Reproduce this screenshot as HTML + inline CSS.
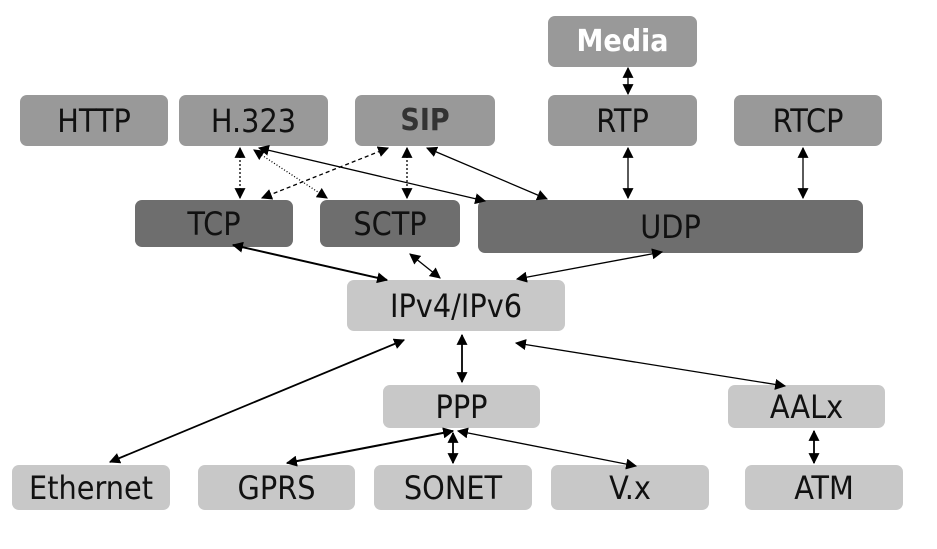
<!DOCTYPE html>
<html><head><style>
body{margin:0;background:#fff;width:937px;height:549px;overflow:hidden;position:relative;font-family:"DejaVu Sans Condensed","DejaVu Sans","Liberation Sans",sans-serif;}
.b{position:absolute;border-radius:7px;display:flex;align-items:center;justify-content:center;font-size:32px;color:#111;}
.g{background:#999;}.d{background:#6e6e6e;}.l{background:#c8c8c8;}
svg{position:absolute;left:0;top:0;}
</style></head><body>
<div class="b g" style="left:548px;top:16px;width:149px;height:51px;color:#fff;font-weight:bold;font-size:30px;">Media</div>
<div class="b g" style="left:20px;top:95px;width:148px;height:51px;">HTTP</div>
<div class="b g" style="left:179px;top:95px;width:149px;height:51px;">H.323</div>
<div class="b g" style="left:355px;top:95px;width:140px;height:51px;font-weight:bold;color:#333;font-size:30px;">SIP</div>
<div class="b g" style="left:548px;top:95px;width:149px;height:51px;">RTP</div>
<div class="b g" style="left:734px;top:95px;width:148px;height:51px;">RTCP</div>
<div class="b d" style="left:135px;top:200px;width:158px;height:47px;">TCP</div>
<div class="b d" style="left:320px;top:200px;width:140px;height:47px;">SCTP</div>
<div class="b d" style="left:478px;top:200px;width:385px;height:53px;">UDP</div>
<div class="b l" style="left:347px;top:280px;width:218px;height:51px;">IPv4/IPv6</div>
<div class="b l" style="left:383px;top:385px;width:157px;height:43px;">PPP</div>
<div class="b l" style="left:728px;top:385px;width:157px;height:43px;">AALx</div>
<div class="b l" style="left:12px;top:465px;width:158px;height:45px;">Ethernet</div>
<div class="b l" style="left:198px;top:465px;width:157px;height:45px;">GPRS</div>
<div class="b l" style="left:374px;top:465px;width:158px;height:45px;">SONET</div>
<div class="b l" style="left:551px;top:465px;width:158px;height:45px;">V.x</div>
<div class="b l" style="left:745px;top:465px;width:158px;height:45px;">ATM</div>
<svg width="937" height="549">
<defs><marker id="a" viewBox="0 0 10 10" refX="9" refY="5" markerWidth="8" markerHeight="8" markerUnits="userSpaceOnUse" orient="auto-start-reverse"><path d="M0,0L10,5L0,10z" fill="#000"/></marker>
<marker id="b" viewBox="0 0 10 10" refX="9" refY="5" markerWidth="11" markerHeight="11" markerUnits="userSpaceOnUse" orient="auto-start-reverse"><path d="M0,0L10,5L0,10z" fill="#000"/></marker></defs>
<g stroke="#000" stroke-width="1.3" fill="none" marker-start="url(#b)" marker-end="url(#b)">
<line x1="628" y1="68" x2="628" y2="94"/>
<line x1="628" y1="148" x2="628" y2="198"/>
<line x1="803" y1="148" x2="803" y2="198"/>
<line x1="240" y1="148" x2="240" y2="198" stroke-dasharray="2,2"/>
<line x1="254" y1="150" x2="327" y2="198" stroke-dasharray="1,2"/>
<line x1="259" y1="148" x2="485" y2="201"/>
<line x1="388" y1="148" x2="262" y2="198" stroke-dasharray="4,3"/>
<line x1="407" y1="148" x2="407" y2="198" stroke-dasharray="2,2"/>
<line x1="427" y1="148" x2="547" y2="199"/>
<line x1="233" y1="245" x2="387" y2="280" stroke-width="2"/>
<line x1="410" y1="254" x2="440" y2="278"/>
<line x1="662" y1="252" x2="517" y2="279"/>
<line x1="462" y1="335" x2="462" y2="382" stroke-width="1.8"/>
<line x1="404" y1="340" x2="110" y2="462" stroke-width="1.8"/>
<line x1="516" y1="343" x2="785" y2="386"/>
<line x1="453" y1="431" x2="287" y2="463" stroke-width="2"/>
<line x1="453" y1="433" x2="453" y2="463" stroke-width="1.8"/>
<line x1="458" y1="431" x2="636" y2="466"/>
<line x1="814" y1="431" x2="814" y2="463" stroke-width="1.8"/>
</g></svg>
</body></html>
